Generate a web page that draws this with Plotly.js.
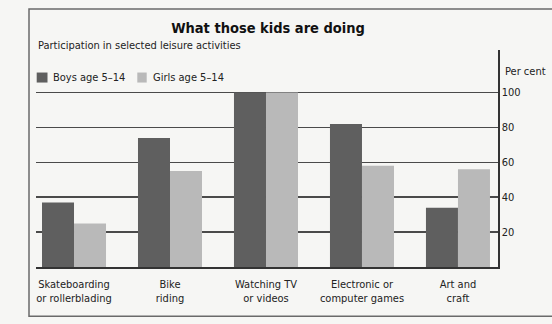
<!DOCTYPE html>
<html>
<head>
<meta charset="utf-8">
<script src="https://cdn.plot.ly/plotly-3.0.1.min.js"></script>
<style>
  html, body { margin: 0; padding: 0; background: #f6f6f4; }
  #chart { width: 552px; height: 324px; }
</style>
</head>
<body>
<div id="chart"></div>
<script>
const categories = [
  "Skateboarding<br>or rollerblading",
  "Bike<br>riding",
  "Watching TV<br>or videos",
  "Electronic or<br>computer games",
  "Art and<br>craft"
];
const boys = [37, 74, 100, 82, 34];
const girls = [25, 55, 100, 58, 56];
const seriesNames = ["Boys age 5\u201314", "Girls age 5\u201314"];
const seriesColors = ["#5f5f5f", "#b9b9b9"];
const yTicks = [20, 40, 60, 80, 100];

const FONT = "Liberation Sans Narrow, DejaVu Sans Condensed, Arial Narrow, sans-serif";
const W = 552, H = 324;
const L = 36, R = 54, T = 50, B = 57.3;
const plotW = W - L - R, plotH = H - T - B;
const px = x => (x - L) / plotW;
const py = y => (H - B - y) / plotH;

const traces = [
  { type: "bar", name: seriesNames[0], x: [0,1,2,3,4], y: boys,
    marker: { color: seriesColors[0], line: { width: 0 } }, showlegend: false },
  { type: "bar", name: seriesNames[1], x: [0,1,2,3,4], y: girls,
    marker: { color: seriesColors[1], line: { width: 0 } }, showlegend: false }
];

// manual legend (swatch + text), positioned like the reference
const legendItems = [
  { sx0: 36.7, sx1: 47.5, tx: 50.5 },
  { sx0: 137.3, sx1: 146.7, tx: 150.5 }
];
const legendY = 77.5;

const layout = {
  width: W, height: H,
  margin: { l: L, r: R, t: T, b: B, pad: 0 },
  paper_bgcolor: "#f6f6f4",
  plot_bgcolor: "#f6f6f4",
  font: { family: FONT, size: 11, color: "#222" },
  barmode: "group",
  bargap: 0.333,
  bargroupgap: 0,
  title: {
    text: "<b>What those kids are doing</b>",
    font: { family: FONT, size: 14.5, color: "#111" },
    xref: "container", yref: "container",
    x: 268 / W, y: 1 - 27.5 / H, xanchor: "center", yanchor: "middle"
  },
  showlegend: false,
  xaxis: {
    type: "linear",
    range: [-0.396, 4.417],
    tickmode: "array", tickvals: [0,1,2,3,4], ticktext: categories,
    showgrid: false, zeroline: false,
    showline: true, linecolor: "#333", linewidth: 1.5,
    ticks: "", ticklabelstandoff: 6,
    tickfont: { family: FONT, size: 11, color: "#222" },
    fixedrange: true
  },
  yaxis: {
    side: "right",
    range: [0, 124.4],
    tickmode: "array", tickvals: yTicks, ticktext: yTicks.map(String),
    showgrid: true, gridcolor: "#4a4a4a", gridwidth: 1.5,
    zeroline: false,
    showline: true, linecolor: "#333", linewidth: 1.5,
    ticks: "", tickfont: { family: FONT, size: 11, color: "#222" },
    fixedrange: true
  },
  annotations: [
    { text: "Participation in selected leisure activities",
      xref: "paper", yref: "paper", x: px(36), y: py(45.7),
      xanchor: "left", yanchor: "middle", showarrow: false,
      font: { family: FONT, size: 11, color: "#222" } },
    { text: "Per cent",
      xref: "paper", yref: "paper", x: px(503), y: py(71),
      xanchor: "left", yanchor: "middle", showarrow: false,
      font: { family: FONT, size: 11, color: "#222" } }
  ].concat(legendItems.map((it, i) => ({
      text: seriesNames[i],
      xref: "paper", yref: "paper", x: px(it.tx), y: py(legendY),
      xanchor: "left", yanchor: "middle", showarrow: false,
      font: { family: FONT, size: 11, color: "#222" }
  }))),
  shapes: [
    { type: "rect", xref: "paper", yref: "paper",
      x0: px(29), x1: px(560), y0: py(316), y1: py(9),
      line: { color: "#6a6a6a", width: 1.5 }, layer: "below" }
  ].concat(legendItems.map((it, i) => ({
      type: "rect", xref: "paper", yref: "paper",
      x0: px(it.sx0), x1: px(it.sx1), y0: py(legendY + 5), y1: py(legendY - 5),
      fillcolor: seriesColors[i], line: { width: 0 }
  })))
};

Plotly.newPlot("chart", traces, layout, { displayModeBar: false, staticPlot: true });
</script>
</body>
</html>
